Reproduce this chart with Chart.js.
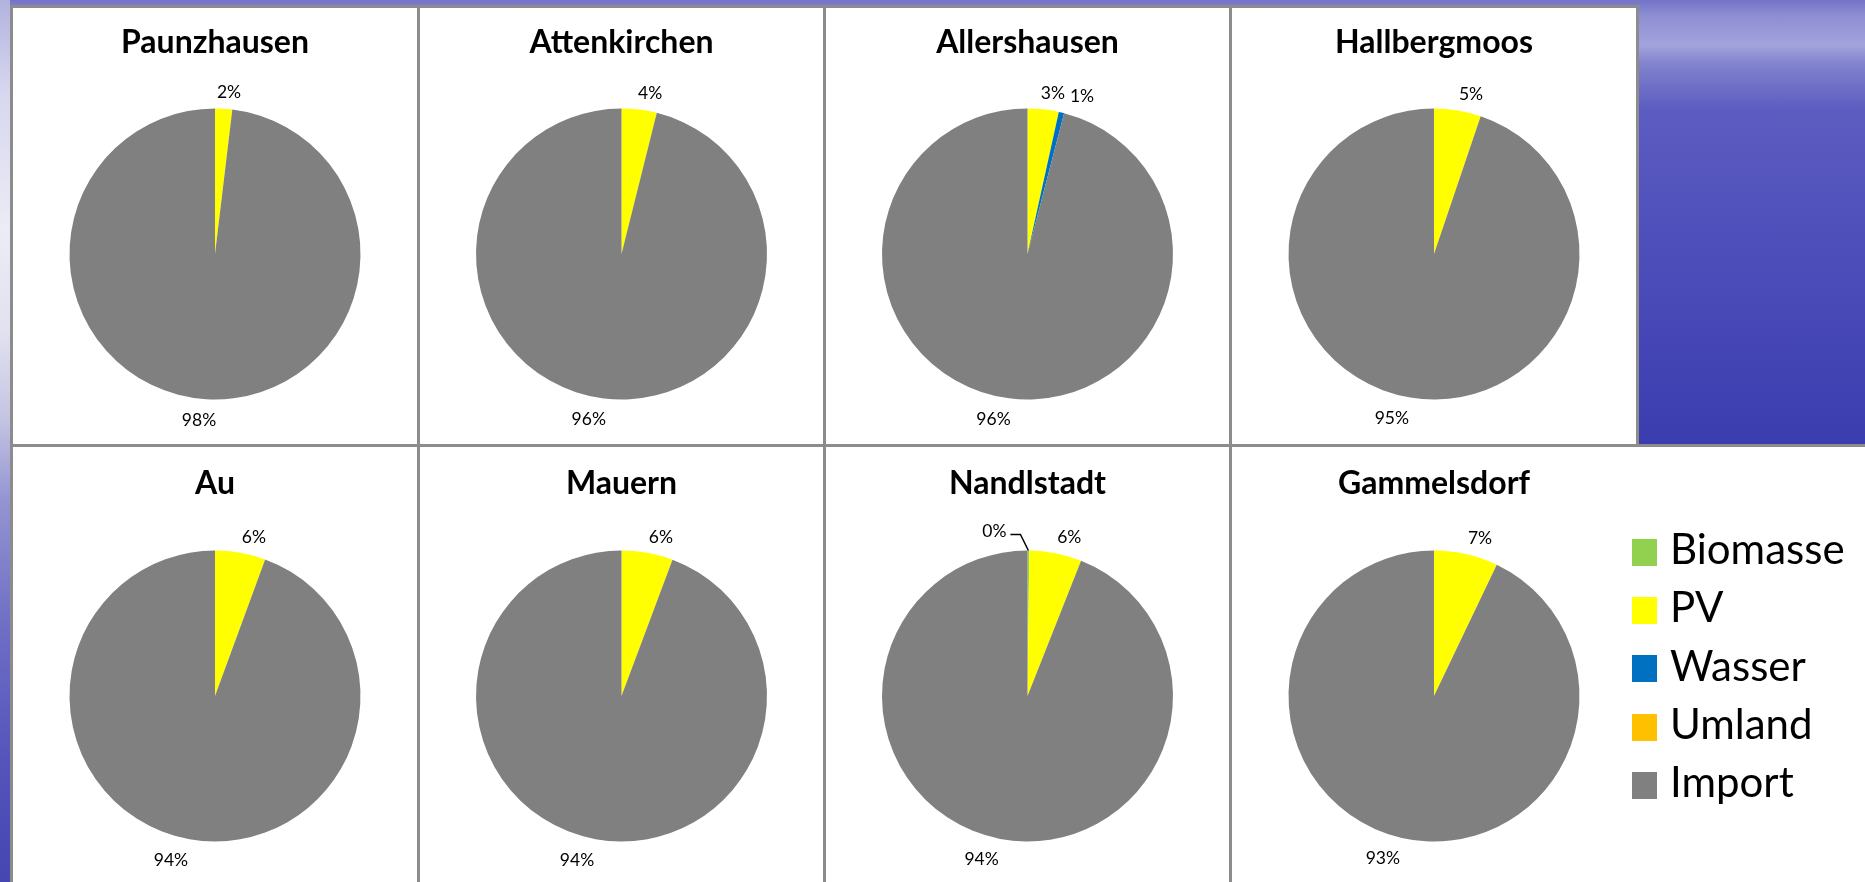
<!DOCTYPE html>
<html lang="de">
<head>
<meta charset="utf-8">
<title>Strommix der Gemeinden</title>
<script src="https://cdn.jsdelivr.net/npm/chart.js@4.4.1/dist/chart.umd.min.js"></script>
<style>
  html, body { margin: 0; padding: 0; }
  body {
    width: 1865px; height: 882px; overflow: hidden; position: relative;
    font-family: Lato, "Open Sans", sans-serif;
    background: linear-gradient(to bottom, #7373c8 0px, #8c8cd2 14px, #a3a3dd 45px, #8282cd 64px, #5c5cc1 110px, #4d4dba 260px, #3b3caf 444px);
  }
  #leftStrip {
    position: absolute; left: 0; top: 0; width: 10px; height: 882px;
    background: linear-gradient(to bottom, #b2b2e0 0px, #d6d6ef 90px, #ececf6 230px, #e2e2f0 330px, #c4c4e2 420px, #9494d2 500px, #7070c6 620px, #5454bb 760px, #4646b2 882px);
  }
  .panel { position: absolute; box-sizing: border-box; background: #fff; border: 3px solid #8c8c8c; }
  .panel canvas { position: absolute; left: 0; top: 0; }
  #legend { position: absolute; left: 1632px; top: 523px; z-index: 5; }
  .legend-row { display: flex; align-items: center; height: 58.3px; }
  .legend-box { width: 25px; height: 27px; margin-right: 13px; }
  .legend-text { font-family: Lato, sans-serif; font-size: 42px; color: #000; position: relative; top: -4px; line-height: 58px; }
</style>
</head>
<body>
<div id="leftStrip"></div>
<div id="legend"></div>
<script>
// ---- data (shares in %, blank cells = null) ----
const towns = ['Paunzhausen', 'Attenkirchen', 'Allershausen', 'Hallbergmoos', 'Au', 'Mauern', 'Nandlstadt', 'Gammelsdorf'];
const sources = ['Biomasse', 'PV', 'Wasser', 'Umland', 'Import'];
const sourceColors = ['#92D050', '#FFFF00', '#0070C0', '#FFC000', '#808080'];

const biomasse = [null, null, null, null, null, null, 0.2, null];
const pv       = [1.9, 3.9, 3.45, 5.2, 5.6, 5.7, 5.8, 7.1];
const wasser   = [null, null, 0.6, null, null, null, null, null];
const umland   = [null, null, null, null, null, null, null, null];
const imports  = [98.1, 96.1, 95.95, 94.8, 94.4, 94.3, 94.0, 92.9];

// ---- layout ----
const colEdges = [10, 417, 823, 1229, 1636];
const rowEdges = [5, 444];
const BORDER = 3;
const RADIUS = 145.5;
const rowPieY = [246, 249];     // pie centre below content top
const rowTitleY = [34.5, 36.3]; // title centre below content top
const TITLE_SIZE = 32;
const LABEL_FONT = '17.5px Lato, "Open Sans", sans-serif';

const pctLabels = {
  id: 'pctLabels',
  afterDatasetsDraw(chart) {
    const ctx = chart.ctx;
    const meta = chart.getDatasetMeta(0);
    const values = chart.data.datasets[0].data;
    const total = values.reduce((s, v) => s + (v || 0), 0);
    ctx.save();
    ctx.font = LABEL_FONT;
    ctx.fillStyle = '#000';
    ctx.strokeStyle = '#000';
    ctx.textBaseline = 'middle';
    let prev = null; // last placed label box, to push neighbours apart
    meta.data.forEach((arc, i) => {
      const v = values[i];
      if (v == null) return;
      const text = Math.round(v / total * 100) + '%';
      const { x, y, startAngle, endAngle, outerRadius } =
        arc.getProps(['x', 'y', 'startAngle', 'endAngle', 'outerRadius'], true);
      const mid = (startAngle + endAngle) / 2;
      const ux = Math.cos(mid), uy = Math.sin(mid);
      if (v / total < 0.005) {
        // tiny slice: label pushed aside with a leader line
        const ax = x + ux * outerRadius, ay = y + uy * outerRadius;
        const ex = ax - 8, ey = ay - 16;
        ctx.lineWidth = 1.5;
        ctx.beginPath();
        ctx.moveTo(ax, ay);
        ctx.lineTo(ex, ey);
        ctx.lineTo(ex - 10, ey);
        ctx.stroke();
        ctx.textAlign = 'right';
        ctx.fillText(text, ex - 14, ey - 3);
        return;
      }
      ctx.textAlign = 'center';
      const w = ctx.measureText(text).width;
      const r = outerRadius + 8;
      const fx = Math.min(1, Math.abs(ux) / 0.15);
      let lx = x + ux * r + Math.sign(ux) * fx * w / 2;
      const ly = y + uy * r + (uy < 0 ? -8 : 13);
      if (prev && Math.abs(prev.y - ly) < 16 && lx - w / 2 < prev.right + 5) {
        lx = prev.right + 5 + w / 2;
      }
      ctx.fillText(text, lx, ly);
      prev = { right: lx + w / 2, y: ly };
    });
    ctx.restore();
  }
};

towns.forEach((town, i) => {
  const row = Math.floor(i / 4), col = i % 4;
  const left = colEdges[col], top = rowEdges[row];
  const lastBottom = (row === 1 && col === 3);
  const panelW = lastBottom ? 1865 - left + 20 : colEdges[col + 1] - left + BORDER;
  const panelH = row === 0 ? rowEdges[1] - top + BORDER : 882 - top + 20;

  const panel = document.createElement('div');
  panel.className = 'panel';
  panel.style.left = left + 'px';
  panel.style.top = top + 'px';
  panel.style.width = panelW + 'px';
  panel.style.height = panelH + 'px';
  document.body.appendChild(panel);

  const cw = colEdges[col + 1] - left - BORDER;
  const ch = row === 0 ? rowEdges[1] - top - BORDER : 882 - top - BORDER;
  const canvas = document.createElement('canvas');
  canvas.width = cw;
  canvas.height = ch;
  canvas.style.width = cw + 'px';
  canvas.style.height = ch + 'px';
  panel.appendChild(canvas);

  const lineH = TITLE_SIZE * 1.2;
  const padTop = rowTitleY[row] - lineH / 2;
  const areaTop = rowPieY[row] - RADIUS;
  const padBottom = areaTop - padTop - lineH;
  const layoutBottom = ch - (rowPieY[row] + RADIUS);

  new Chart(canvas, {
    type: 'pie',
    data: {
      labels: sources,
      datasets: [{
        data: [biomasse[i], pv[i], wasser[i], umland[i], imports[i]],
        backgroundColor: sourceColors,
        borderWidth: 0,
        hoverOffset: 0,
        offset: 0,
      }],
    },
    options: {
      responsive: false,
      animation: false,
      devicePixelRatio: 1,
      events: [],
      layout: { padding: { top: 0, bottom: layoutBottom, left: 0, right: 0 } },
      plugins: {
        legend: { display: false },
        tooltip: { enabled: false },
        title: {
          display: true,
          text: town,
          color: '#000',
          font: { family: 'Lato', size: TITLE_SIZE, weight: 'bold', lineHeight: 1.2 },
          padding: { top: padTop, bottom: padBottom },
        },
      },
    },
    plugins: [pctLabels],
  });
});

// legend (built from the same categories / colours)
const legendEl = document.getElementById('legend');
sources.forEach((s, k) => {
  const rowEl = document.createElement('div');
  rowEl.className = 'legend-row';
  rowEl.innerHTML = `<div class="legend-box" style="background:${sourceColors[k]}"></div><span class="legend-text">${s}</span>`;
  legendEl.appendChild(rowEl);
});
</script>
</body>
</html>
